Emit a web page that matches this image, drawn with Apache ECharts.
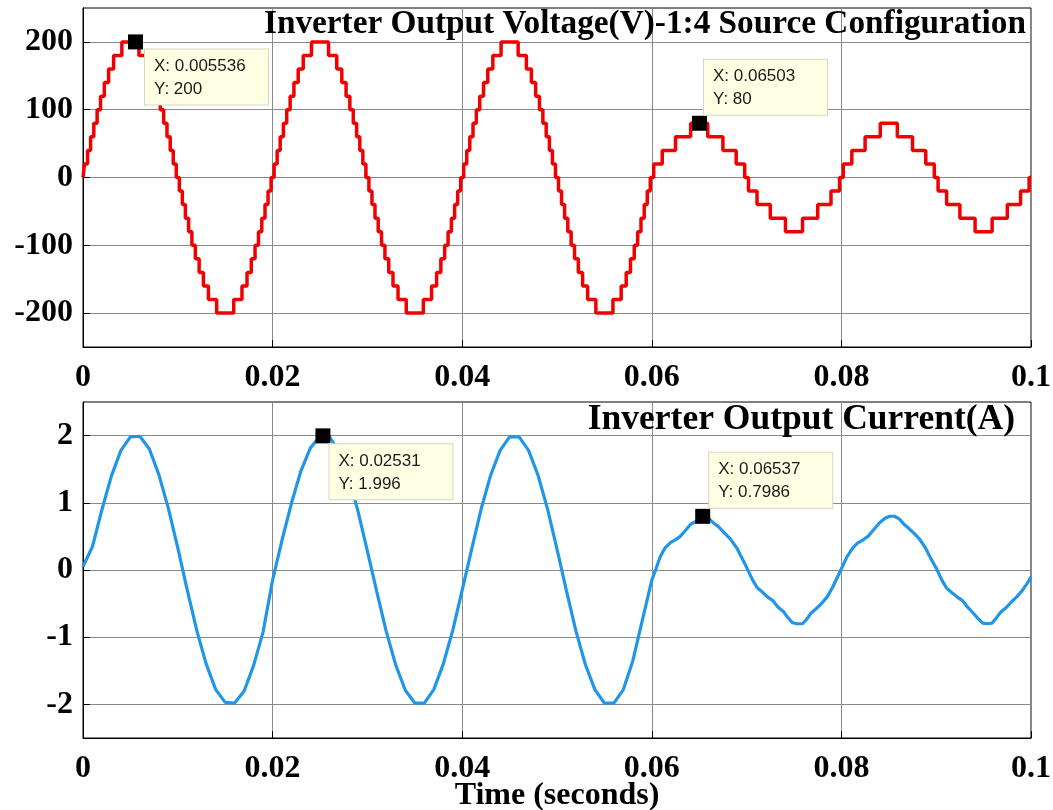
<!DOCTYPE html>
<html lang="en">
    <head>
        <meta charset="UTF-8">
        <script src="https://cdn.jsdelivr.net/npm/echarts@6.0.0/dist/echarts.min.js"></script>
        <title>Inverter Output Voltage and Current</title>
        <style>
            html, body { margin: 0; padding: 0; background: #fff; }
        </style>
    </head>
    <body>
        <div id="chart-container" style="width: 1053px; height: 810px;"></div>

        <script>
            // x axis ticks (seconds), shared by both plots
            const timeTicks = [0, 0.02, 0.04, 0.06, 0.08, 0.1];
            const voltageTicks = [-200, -100, 0, 100, 200];
            const currentTicks = [-2, -1, 0, 1, 2];

            // voltage staircase: switching instants inside a quarter period (s)
            const voltageHighOffsets = [0.00016, 0.00048, 0.0008, 0.00114, 0.00149, 0.00185, 0.00225, 0.0027, 0.00323, 0.0041];
            const voltageLowOffsets = [0.0002, 0.0011, 0.0025, 0.0041];
            const voltageStep = 20; // volts per level
            const highCycleStarts = [0, 0.02, 0.04];
            const lowCycleStarts = [0.06, 0.08];

            // current samples (time in ms, value in A)
            const currentTime = [
                0, 1, 2, 3, 4, 5, 6, 7, 8, 9, 10, 11, 12, 13, 14, 15, 16, 17, 18, 19,
                20, 21, 22, 23, 24, 25, 26, 27, 28, 29, 30, 31, 32, 33, 34, 35, 36, 37, 38, 39,
                40, 41, 42, 43, 44, 45, 46, 47, 48, 49, 50, 51, 52, 53, 54, 55, 56, 57, 58, 59,
                60, 60.4, 60.9, 61.4, 62, 62.6, 63, 63.5, 64.1, 64.6, 65, 65.4, 65.9, 66.5, 67, 67.6, 68.3, 69, 69.5,
                70, 70.6, 71.1, 71.6, 72.2, 72.8, 73.3, 73.9, 74.3, 74.8, 75.3, 75.9, 76.3, 76.8, 77.3, 77.9, 78.5, 79.1, 79.6,
                80, 80.6, 81.2, 81.7, 82.3, 82.8, 83.4, 84, 84.6, 85.1, 85.6, 86.1, 86.6, 87.1, 87.7, 88.3, 88.9, 89.4,
                90, 90.6, 91.1, 91.6, 92.2, 92.8, 93.3, 93.9, 94.4, 94.9, 95.4, 95.9, 96.3, 96.8, 97.3, 97.9, 98.5, 99.1, 99.6, 100
            ];
            const currentValue = [
                0.05, 0.35, 0.9, 1.4, 1.78, 1.98, 1.99, 1.8, 1.42, 0.92, 0.33, -0.3, -0.9, -1.4, -1.78, -1.97, -1.98, -1.8, -1.42, -0.92,
                -0.15, 0.45, 1.0, 1.48, 1.82, 1.99, 1.98, 1.76, 1.38, 0.88, 0.28, -0.33, -0.92, -1.42, -1.79, -1.98, -1.98, -1.78, -1.4, -0.9,
                -0.3, 0.31, 0.91, 1.41, 1.78, 1.98, 1.98, 1.78, 1.41, 0.91, 0.31, -0.31, -0.91, -1.41, -1.78, -1.98, -1.98, -1.78, -1.35, -0.75,
                -0.15, 0.0, 0.2, 0.33, 0.41, 0.46, 0.5, 0.58, 0.68, 0.72, 0.77, 0.8, 0.78, 0.7, 0.65, 0.56, 0.46, 0.32, 0.18,
                0.04, -0.14, -0.26, -0.32, -0.4, -0.46, -0.55, -0.62, -0.7, -0.78, -0.8, -0.8, -0.74, -0.64, -0.58, -0.5, -0.4, -0.25, -0.1,
                0.02, 0.2, 0.33, 0.4, 0.45, 0.5, 0.6, 0.7, 0.77, 0.8, 0.8, 0.76, 0.68, 0.62, 0.54, 0.45, 0.32, 0.18,
                0.03, -0.15, -0.27, -0.33, -0.4, -0.46, -0.55, -0.64, -0.72, -0.79, -0.8, -0.79, -0.72, -0.63, -0.57, -0.48, -0.4, -0.3, -0.2, -0.1
            ];

            // data tips shown on the plots
            const voltageTipX = [0.005536, 0.06503];
            const voltageTipY = [200, 80];
            const voltageTipText = ['X: 0.005536\nY: 200', 'X: 0.06503\nY: 80'];
            const currentTipX = [0.02531, 0.06537];
            const currentTipY = [1.996, 0.7986];
            const currentTipText = ['X: 0.02531\nY: 1.996', 'X: 0.06537\nY: 0.7986'];

            // build the staircase: each point is [switch time, new level], drawn with step 'end'
            function addCycle(points, start, offsets) {
                const n = offsets.length;
                for (let k = 0; k < n; k++) points.push([start + offsets[k], (k + 1) * voltageStep]);
                for (let k = n - 1; k >= 0; k--) points.push([start + 0.01 - offsets[k], k * voltageStep]);
                for (let k = 0; k < n; k++) points.push([start + 0.01 + offsets[k], -(k + 1) * voltageStep]);
                for (let k = n - 1; k >= 0; k--) points.push([start + 0.02 - offsets[k], -k * voltageStep]);
            }
            const voltageData = [[0, 0]];
            highCycleStarts.forEach(c => addCycle(voltageData, c, voltageHighOffsets));
            lowCycleStarts.forEach(c => addCycle(voltageData, c, voltageLowOffsets));
            voltageData.push([0.1, 0]);

            const currentData = currentTime.map((t, i) => [t / 1000, currentValue[i]]);

            const serif = 'Liberation Serif';
            const labelFont = { fontFamily: serif, fontWeight: 'bold', fontSize: 32, color: '#000' };

            function xAxisFor(gridIndex, extra) {
                return Object.assign({
                    type: 'value',
                    gridIndex: gridIndex,
                    min: 0,
                    max: 0.1,
                    interval: 0.02,
                    axisLine: { show: true, onZero: false, lineStyle: { color: '#000', width: 1 } },
                    axisTick: { show: true, inside: true, length: 7, lineStyle: { color: '#000' } },
                    splitLine: { show: true, lineStyle: { color: '#8a8a8a', width: 1 } },
                    axisLabel: Object.assign({
                        margin: 15,
                        formatter: v => {
                            const hit = timeTicks.find(t => Math.abs(t - v) < 1e-9);
                            return hit === undefined ? '' : String(hit);
                        }
                    }, labelFont)
                }, extra || {});
            }

            function yAxisFor(gridIndex, lim, ticks) {
                return {
                    type: 'value',
                    gridIndex: gridIndex,
                    min: -lim,
                    max: lim,
                    axisLine: { show: true, onZero: false, lineStyle: { color: '#000', width: 1 } },
                    axisTick: { show: true, inside: true, length: 7, lineStyle: { color: '#000' }, customValues: ticks },
                    splitLine: { show: true, lineStyle: { color: '#8a8a8a', width: 1 } },
                    axisLabel: Object.assign({ margin: 10, customValues: ticks }, labelFont)
                };
            }

            function tipPoints(xs, ys, texts, positions) {
                return xs.map((x, i) => ({
                    coord: [x, ys[i]],
                    label: {
                        show: true,
                        formatter: texts[i],
                        position: positions[i],
                        align: 'left',
                        verticalAlign: 'top',
                        fontFamily: 'Liberation Sans',
                        fontSize: 17,
                        lineHeight: 23,
                        color: '#1a1a1a',
                        backgroundColor: '#ffffe4',
                        borderColor: '#d6d6c6',
                        borderWidth: 1,
                        width: 108,
                        padding: [5, 6, 4, 9]
                    }
                }));
            }

            const chart = echarts.init(document.getElementById('chart-container'), null, { renderer: 'canvas' });
            const options = {
                animation: false,
                backgroundColor: '#fff',
                title: [
                    {
                        text: 'Inverter Output Voltage(V)-1:4 Source Configuration',
                        right: 27, top: 8, padding: 0,
                        textStyle: { fontFamily: serif, fontWeight: 'bold', fontSize: 33.3, color: '#000' }
                    },
                    {
                        text: 'Inverter Output Current(A)',
                        right: 38, top: 402, padding: 0,
                        textStyle: { fontFamily: serif, fontWeight: 'bold', fontSize: 35.5, color: '#000' }
                    }
                ],
                grid: [
                    { left: 83, right: 22, top: 8, height: 339, show: true, borderColor: '#000', borderWidth: 1, outerBoundsMode: 'none' },
                    { left: 83, right: 22, top: 402, height: 336, show: true, borderColor: '#000', borderWidth: 1, outerBoundsMode: 'none' }
                ],
                xAxis: [
                    xAxisFor(0),
                    xAxisFor(1, {
                        name: 'Time (seconds)',
                        nameLocation: 'middle',
                        nameGap: 42,
                        nameMoveOverlap: false,
                        nameTextStyle: { fontFamily: serif, fontWeight: 'bold', fontSize: 32, color: '#000' }
                    })
                ],
                yAxis: [
                    yAxisFor(0, 250, voltageTicks),
                    yAxisFor(1, 2.5, currentTicks)
                ],
                series: [
                    {
                        type: 'line',
                        xAxisIndex: 0,
                        yAxisIndex: 0,
                        data: voltageData,
                        step: 'end',
                        showSymbol: false,
                        lineStyle: { color: '#f00000', width: 3.5 },
                        markPoint: {
                            symbol: 'rect',
                            symbolSize: 15,
                            itemStyle: { color: '#000' },
                            data: tipPoints(voltageTipX, voltageTipY, voltageTipText, [[17, 15], [12, -56]])
                        }
                    },
                    {
                        type: 'line',
                        xAxisIndex: 1,
                        yAxisIndex: 1,
                        data: currentData,
                        showSymbol: false,
                        lineStyle: { color: '#2196e8', width: 3.2 },
                        markPoint: {
                            symbol: 'rect',
                            symbolSize: 15,
                            itemStyle: { color: '#000' },
                            data: tipPoints(currentTipX, currentTipY, currentTipText, [[14, 16], [14, -56]])
                        }
                    }
                ]
            };
            chart.setOption(options);
        </script>
    </body>
</html>
